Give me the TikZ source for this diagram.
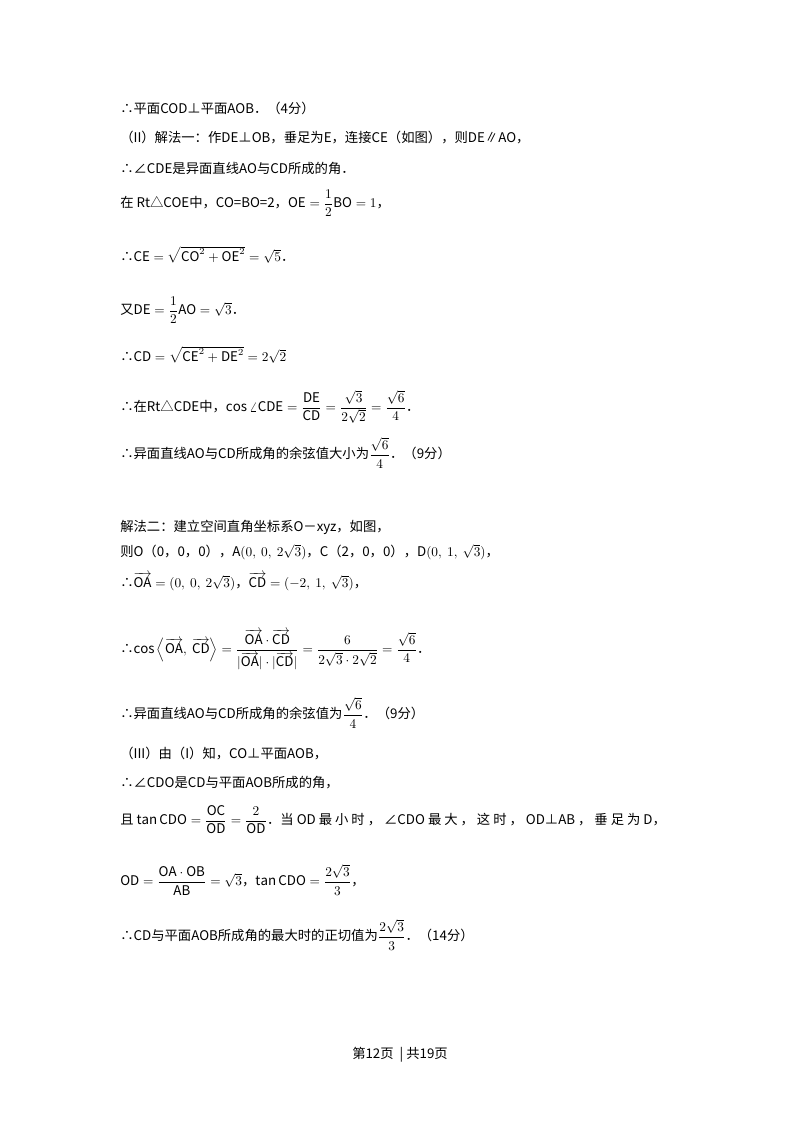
\documentclass[tikz,border=0pt]{standalone}
\usepackage{amsmath}
\usepackage{fontspec}
\setmainfont{Noto Sans CJK SC}
\begin{document}
\begin{tikzpicture}[x=0.75pt,y=-0.75pt,
  ln/.style={anchor=west,inner sep=0pt,font=\fontsize{10}{12}\selectfont}]
\useasboundingbox (0,0) rectangle (800,1132);
\fill[white] (0,0) rectangle (800,1132);
\node[ln] (l1) at (120,108) {∴平面COD⊥平面AOB．（4分）};
\node[ln] (l2) at (120,138) {（II）解法一：作DE⊥OB，垂足为E，连接CE（如图），则DE∥AO，};
\node[ln] (l3) at (120,168) {∴∠CDE是异面直线AO与CD所成的角．};
\node[ln] (l4) at (120,203) {在 Rt△COE中，CO=BO=2，$\mathrm{OE}=\dfrac{1}{2}\mathrm{BO}=1$，};
\node[ln] (l5) at (120,255) {∴$\mathrm{CE}=\sqrt{\mathrm{CO}^2+\mathrm{OE}^2}=\sqrt{5}$．};
\node[ln] (l6) at (120,310) {又$\mathrm{DE}=\dfrac{1}{2}\mathrm{AO}=\sqrt{3}$．};
\node[ln] (l7) at (120,355) {∴$\mathrm{CD}=\sqrt{\mathrm{CE}^2+\mathrm{DE}^2}=2\sqrt{2}$};
\node[ln] (l8) at (120,407) {∴在Rt△CDE中，$\cos\angle\mathrm{CDE}=\dfrac{\mathrm{DE}}{\mathrm{CD}}=\dfrac{\sqrt{3}}{2\sqrt{2}}=\dfrac{\sqrt{6}}{4}$．};
\node[ln] (l9) at (120,453) {∴异面直线AO与CD所成角的余弦值大小为$\dfrac{\sqrt{6}}{4}$．（9分）};
\node[ln] (l10) at (120,527) {解法二：建立空间直角坐标系O－xyz，如图，};
\node[ln] (l11) at (120,552) {则O（0，0，0），A$(0,\ 0,\ 2\sqrt{3})$，C（2，0，0），D$(0,\ 1,\ \sqrt{3})$，};
\node[ln] (l12) at (120,582) {∴$\overrightarrow{\mathrm{OA}}=(0,\ 0,\ 2\sqrt{3})$，$\overrightarrow{\mathrm{CD}}=(-2,\ 1,\ \sqrt{3})$，};
\node[ln] (l13) at (120,650) {∴$\cos\left\langle\overrightarrow{\mathrm{OA}},\ \overrightarrow{\mathrm{CD}}\right\rangle=\dfrac{\overrightarrow{\mathrm{OA}}\cdot\overrightarrow{\mathrm{CD}}}{|\overrightarrow{\mathrm{OA}}|\cdot|\overrightarrow{\mathrm{CD}}|}=\dfrac{6}{2\sqrt{3}\cdot2\sqrt{2}}=\dfrac{\sqrt{6}}{4}$．};
\node[ln] (l14) at (120,713) {∴异面直线AO与CD所成角的余弦值为$\dfrac{\sqrt{6}}{4}$．（9分）};
\node[ln] (l15) at (120,753) {（III）由（I）知，CO⊥平面AOB，};
\node[ln] (l16) at (120,783) {∴∠CDO是CD与平面AOB所成的角，};
\node[ln] (l17) at (120,820) {且 $\tan\mathrm{CDO}=\dfrac{\mathrm{OC}}{\mathrm{OD}}=\dfrac{2}{\mathrm{OD}}$．当 OD 最 小 时 ， ∠CDO 最 大 ， 这 时 ， OD⊥AB ， 垂 足 为 D，};
\node[ln] (l18) at (120,880) {$\mathrm{OD}=\dfrac{\mathrm{OA}\cdot\mathrm{OB}}{\mathrm{AB}}=\sqrt{3}$，$\tan\mathrm{CDO}=\dfrac{2\sqrt{3}}{3}$，};
\node[ln] (l19) at (120,935) {∴CD与平面AOB所成角的最大时的正切值为$\dfrac{2\sqrt{3}}{3}$．（14分）};
\node[ln,anchor=center] (ft) at (400,1055) {第12页 \ | 共19页};
\end{tikzpicture}
\end{document}
